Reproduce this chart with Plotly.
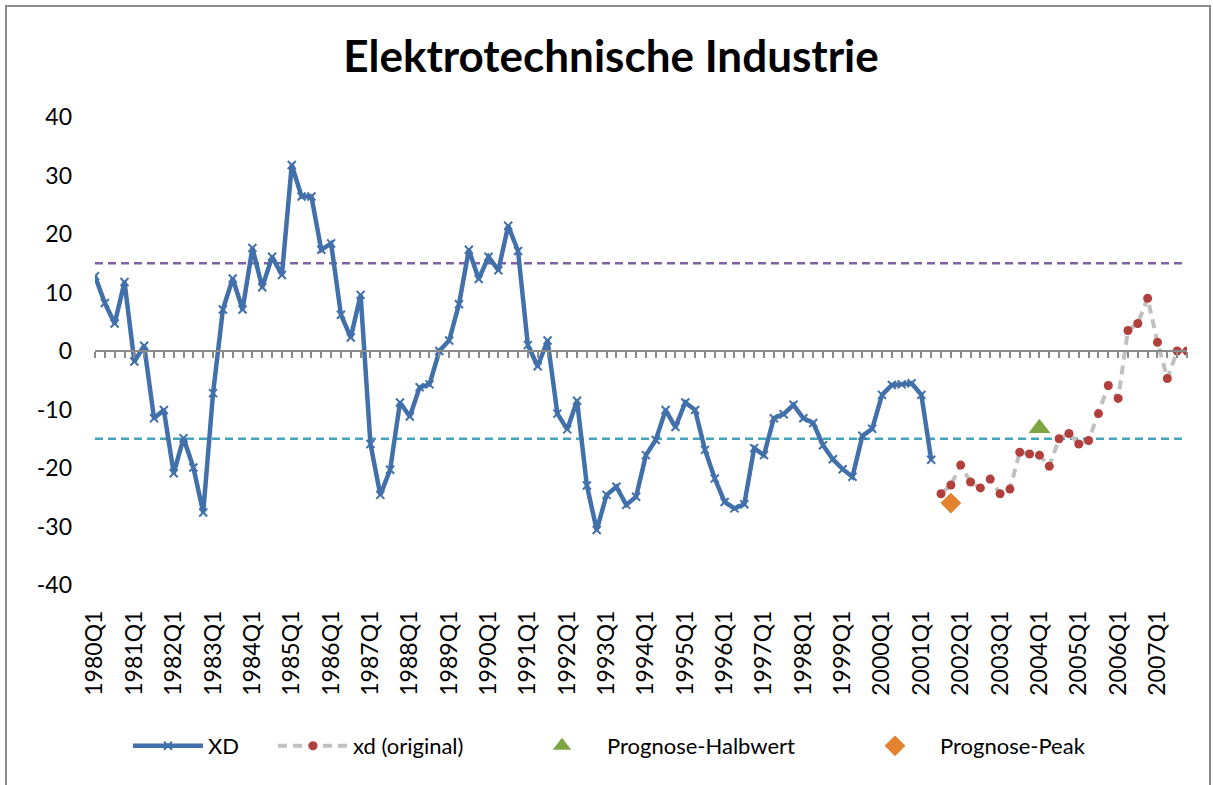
import plotly.graph_objects as go

# ---------------- data ----------------
years = list(range(1980, 2008))
quarters = [f"{y}Q{q}" for y in years for q in range(1, 5)]
q1_labels = [f"{y}Q1" for y in years]

xd_values = [12.8, 8.2, 4.7, 11.8, -1.8, 0.9, -11.5, -10.1, -20.9, -14.9,
             -19.9, -27.6, -7.2, 7.1, 12.4, 7.1, 17.6, 10.9, 16.1, 13.0,
             31.8, 26.4, 26.4, 17.3, 18.4, 6.2, 2.3, 9.6, -15.9, -24.6,
             -20.3, -8.8, -11.2, -6.2, -5.7, 0.0, 1.8, 8.0, 17.3, 12.3,
             16.1, 13.8, 21.4, 17.1, 1.0, -2.6, 1.8, -10.7, -13.4, -8.5,
             -23.0, -30.6, -24.6, -23.2, -26.3, -24.9, -17.8, -15.2, -10.1, -13.0,
             -8.8, -10.1, -16.9, -21.8, -25.8, -26.9, -26.2, -16.6, -17.8, -11.5,
             -10.8, -9.2, -11.5, -12.3, -16.1, -18.5, -20.2, -21.5, -14.5, -13.3,
             -7.5, -5.8, -5.7, -5.5, -7.5, -18.6]
xd_quarters = quarters[:len(xd_values)]

orig_values = [-24.4, -22.9, -19.5, -22.4, -23.4, -21.9, -24.4, -23.6, -17.3, -17.6,
               -17.8, -19.7, -15.0, -14.1, -15.9, -15.3, -10.7, -5.9, -8.1, 3.5,
               4.7, 9.0, 1.5, -4.7, 0.0, 0.0]
orig_quarters = quarters[len(xd_values):len(xd_values) + len(orig_values)]

halbwert_quarter = ["2004Q1"]
halbwert_value = [-13.2]
peak_quarter = ["2001Q4"]
peak_value = [-26.0]

upper_band = 15
lower_band = -15

y_ticks = [40, 30, 20, 10, 0, -10, -20, -30, -40]
y_ticktext = ["40", "30", "20", "10", "0", "-10", "-20", "-30", "-40"]

# ---------------- layout constants ----------------
W, H = 1213, 785
L, R, T, B = 95, 26, 117, 200
PW = W - L - R
PH = H - T - B
FONT = "Lato, 'Open Sans', sans-serif"


def px_x(p):
    return (p - L) / PW


def px_y(p):
    return (H - B - p) / PH


fig = go.Figure()

fig.add_trace(go.Scatter(x=quarters, y=[upper_band] * len(quarters), mode="lines",
                         line=dict(color="#7F62A1", width=2.5, dash="8px,5px"),
                         showlegend=False, hoverinfo="skip"))
fig.add_trace(go.Scatter(x=quarters, y=[lower_band] * len(quarters), mode="lines",
                         line=dict(color="#46A3B8", width=2.5, dash="8px,5px"),
                         showlegend=False, hoverinfo="skip"))

fig.add_trace(go.Scatter(x=xd_quarters, y=xd_values, mode="lines+markers", name="XD",
                         line=dict(color="#4170AA", width=4.5),
                         marker=dict(symbol="x-thin", size=8, color="#4170AA",
                                     line=dict(color="#4170AA", width=2)),
                         legend="legend"))
fig.add_trace(go.Scatter(x=orig_quarters, y=orig_values, mode="lines+markers",
                         name="xd (original)",
                         line=dict(color="#C0C0C0", width=4, dash="9px,6px"),
                         marker=dict(symbol="circle", size=9, color="#B13F3B"),
                         legend="legend2"))
fig.add_trace(go.Scatter(x=halbwert_quarter, y=halbwert_value, mode="markers",
                         name="Prognose-Halbwert",
                         marker=dict(symbol="triangle-up", size=19, color="#7FA444"),
                         legend="legend3"))
fig.add_trace(go.Scatter(x=peak_quarter, y=peak_value, mode="markers",
                         name="Prognose-Peak",
                         marker=dict(symbol="diamond", size=16, color="#E3822F"),
                         legend="legend4"))

legend_common = dict(orientation="h", yanchor="middle", xanchor="left",
                     font=dict(family=FONT, size=22, color="#000000"),
                     bgcolor="rgba(0,0,0,0)")
leg_y = px_y(746)

fig.update_layout(
    width=W, height=H,
    margin=dict(l=L, r=R, t=T, b=B),
    paper_bgcolor="white", plot_bgcolor="white",
    title=dict(text="<b>Elektrotechnische Industrie</b>", x=611 / W, xref="container",
               xanchor="center", y=1 - 57 / H, yref="container", yanchor="middle",
               font=dict(family=FONT, size=44, color="#000000")),
    xaxis=dict(type="category", categoryorder="array", categoryarray=quarters,
               range=[0, len(quarters) - 1], tickmode="array", tickvals=q1_labels,
               ticktext=q1_labels, tickangle=-90, showgrid=False, zeroline=False,
               showline=False, ticks="", ticklabelstandoff=20,
               tickfont=dict(family=FONT, size=23, color="#000000")),
    xaxis2=dict(overlaying="x", anchor="free", position=0.5,
                range=[0, len(quarters) - 1], tickmode="array",
                tickvals=list(range(len(quarters))), showticklabels=False,
                showline=True, linecolor="#8A8A8A", linewidth=2,
                ticks="outside", ticklen=6, tickwidth=2, tickcolor="#8A8A8A",
                showgrid=False, zeroline=False),
    yaxis=dict(range=[-40, 40], tickmode="array", tickvals=y_ticks,
               ticktext=y_ticktext,
               showgrid=False, zeroline=False, showline=False, ticks="",
               ticklabelstandoff=22,
               tickfont=dict(family=FONT, size=23, color="#000000")),
    legend=dict(x=px_x(128), y=leg_y, itemwidth=70, **legend_common),
    legend2=dict(x=px_x(273), y=leg_y, itemwidth=70, **legend_common),
    legend3=dict(x=px_x(517), y=leg_y, itemwidth=80, **legend_common),
    legend4=dict(x=px_x(850), y=leg_y, itemwidth=80, **legend_common),
    shapes=[dict(type="rect", xref="paper", yref="paper",
                 x0=px_x(6), x1=px_x(1210), y0=px_y(800), y1=px_y(6),
                 line=dict(color="#8C8C8C", width=2), fillcolor="rgba(0,0,0,0)",
                 layer="below")],
)

# invisible trace on xaxis2 so the zero axis with its ticks is drawn
fig.add_trace(go.Scatter(x=[0], y=[0], xaxis="x2", mode="markers",
                         marker=dict(opacity=0), showlegend=False, hoverinfo="skip"))

fig.write_html("out.html", config={"displayModeBar": False},
               post_script="document.body.style.margin='0';document.body.style.overflow='hidden';")
